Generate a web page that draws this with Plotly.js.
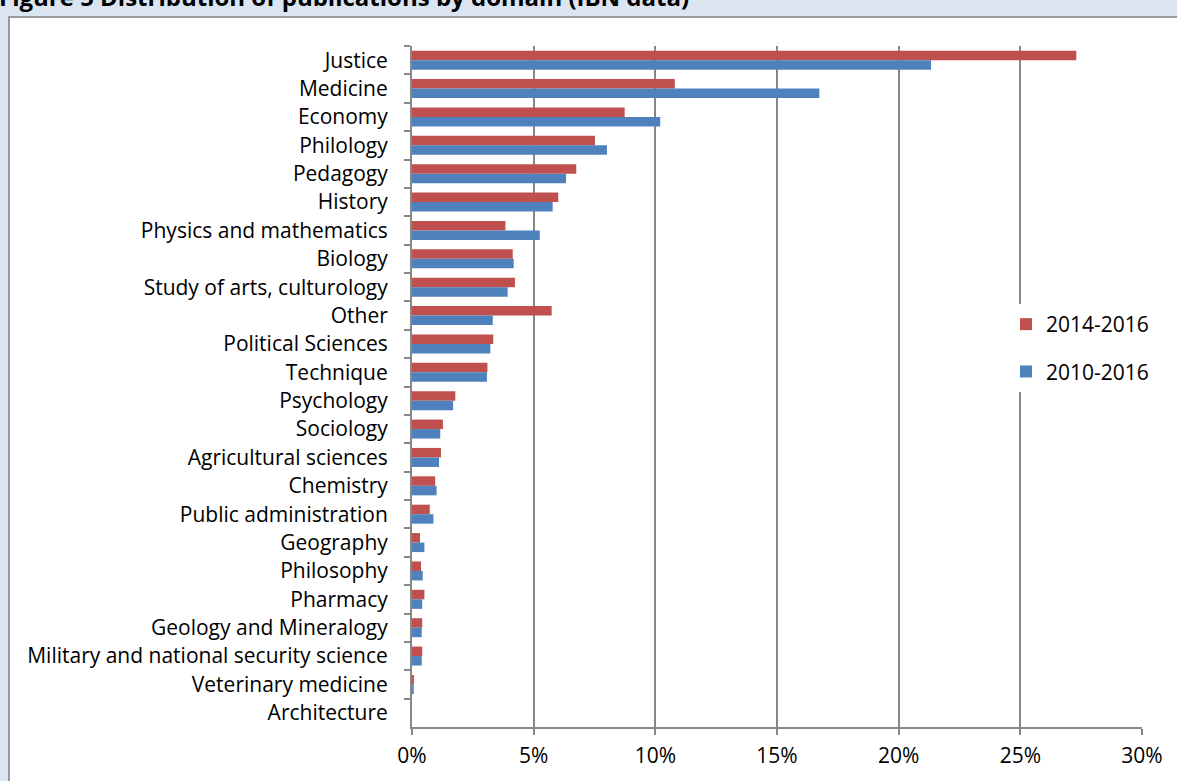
<!DOCTYPE html>
<html>
<head>
<meta charset="utf-8">
<script src="https://cdn.plot.ly/plotly-3.0.1.min.js"></script>
<style>
html,body{margin:0;padding:0;background:#dbe5f1;}
#chart{width:1177px;height:781px;}
</style>
</head>
<body>
<div id="chart"></div>
<script>
const categories = [
  "Justice","Medicine","Economy","Philology","Pedagogy","History",
  "Physics and mathematics","Biology","Study of arts, culturology","Other",
  "Political Sciences","Technique","Psychology","Sociology",
  "Agricultural sciences","Chemistry","Public administration","Geography",
  "Philosophy","Pharmacy","Geology and Mineralogy",
  "Military and national security science","Veterinary medicine","Architecture"
];
const series2014_2016 = [27.3,10.8,8.74,7.52,6.75,6.01,3.84,4.14,4.23,5.74,3.34,3.10,1.78,1.27,1.19,0.95,0.73,0.33,0.37,0.51,0.42,0.42,0.08,0];
const series2010_2016 = [21.33,16.74,10.2,8.01,6.33,5.78,5.25,4.18,3.93,3.32,3.22,3.08,1.69,1.16,1.11,1.01,0.88,0.51,0.44,0.42,0.40,0.40,0.07,0];
const seriesNames = ["2014-2016","2010-2016"];
const xTickValues = [0,5,10,15,20,25,30];
const xTickLabels = ["0%","5%","10%","15%","20%","25%","30%"];
const titleText = "Figure 5 Distribution of publications by domain (IBN data)";

const FONT = "'Open Sans', 'Noto Sans', sans-serif";
const GRID = "#878787";

const traces = [
  {type:"bar", orientation:"h", name:seriesNames[0], y:categories, x:series2014_2016,
   marker:{color:"#C0504D"}, legendgroup:"a", hoverinfo:"x+y"},
  {type:"bar", orientation:"h", name:seriesNames[1], y:categories, x:series2010_2016,
   marker:{color:"#4F81BD"}, legendgroup:"b", hoverinfo:"x+y"}
];

const L = 412, R = 1142, T = 46, B = 727;
const W = R - L, H = B - T;
const px2x = p => (p - L) / W;
const py2y = p => (B - p) / H;

const layout = {
  width:1177, height:781,
  margin:{l:L, r:1177-R, t:T, b:781-B, pad:0},
  paper_bgcolor:"#dbe5f1",
  plot_bgcolor:"rgba(0,0,0,0)",
  font:{family:FONT, size:21, color:"#000"},
  barmode:"group", bargap:0.33, bargroupgap:0,
  showlegend:true,
  legend:{x:px2x(1006), y:py2y(304), xanchor:"left", yanchor:"top",
          bgcolor:"#ffffff", borderwidth:0, traceorder:"grouped", tracegroupgap:17,
          font:{family:FONT, size:21, color:"#000"}},
  xaxis:{range:[0,30], tickvals:xTickValues, ticktext:xTickLabels, showgrid:true,
         gridcolor:GRID, gridwidth:2, showline:true, linecolor:GRID, linewidth:2,
         ticks:"outside", ticklen:6, tickwidth:2, tickcolor:GRID, zeroline:false,
         ticklabelstandoff:3, fixedrange:true},
  yaxis:{autorange:"reversed", type:"category", showgrid:false, showline:true,
         linecolor:GRID, linewidth:2, ticks:"outside", ticklen:6, tickwidth:2,
         tickcolor:GRID, tickson:"boundaries", ticklabelstandoff:18, fixedrange:true},
  shapes:[
    {type:"rect", xref:"paper", yref:"paper", layer:"below",
     x0:px2x(9), x1:px2x(1200), y0:py2y(800), y1:py2y(17),
     fillcolor:"#ffffff", line:{color:"#9a9a9a", width:2}}
  ],
  annotations:[
    {xref:"paper", yref:"paper", x:px2x(-3), y:py2y(-4), xanchor:"left", yanchor:"middle",
     text:"<b>"+titleText+"</b>", showarrow:false, font:{family:FONT, size:24, color:"#000"}}
  ]
};

Plotly.newPlot("chart", traces, layout, {displayModeBar:false, staticPlot:true});
</script>
</body>
</html>
